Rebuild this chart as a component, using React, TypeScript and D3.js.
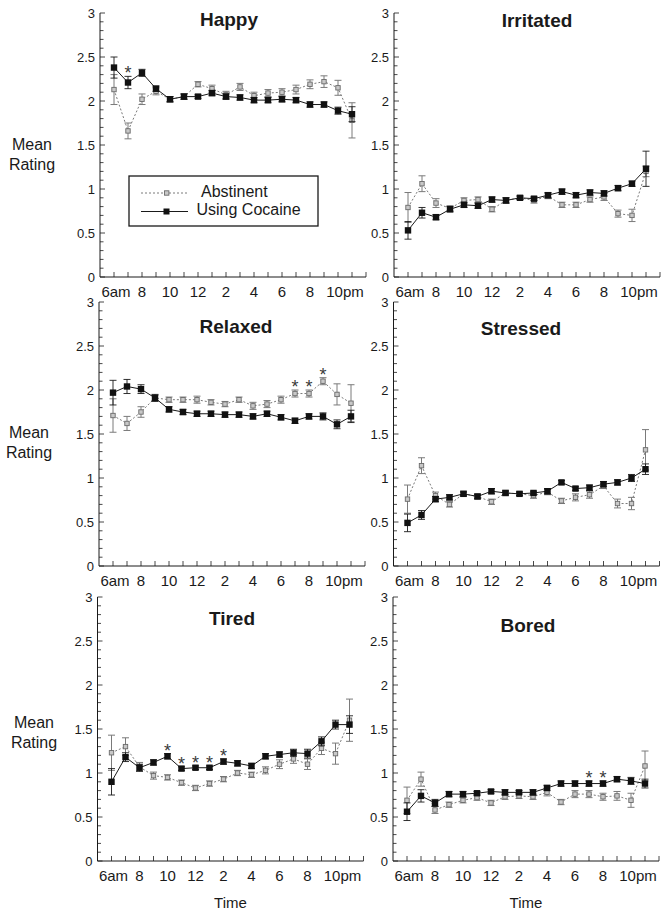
import React from "react";
import * as d3 from "d3";

const HOURS = [6, 7, 8, 9, 10, 11, 12, 13, 14, 15, 16, 17, 18, 19, 20, 21, 22, 23];
const TICK_HOURS = [6, 8, 10, 12, 14, 16, 18, 20, 22];
const TICK_LABELS = ["6am", "8", "10", "12", "2", "4", "6", "8", "10pm"];
const Y_TICKS = [0, 0.5, 1, 1.5, 2, 2.5, 3];
const Y_LABELS = ["0", "0.5", "1", "1.5", "2", "2.5", "3"];
const LEGEND_LABELS = ["Abstinent", "Using Cocaine"];

// Happy
const happyCocaine = [2.38, 2.21, 2.32, 2.14, 2.02, 2.05, 2.05, 2.09, 2.05, 2.04, 2.01, 2.01, 2.02, 2.01, 1.96, 1.96, 1.89, 1.85];
const happyCocaineErr = [0.12, 0.07, 0.04, 0.03, 0.03, 0.03, 0.02, 0.03, 0.03, 0.03, 0.03, 0.03, 0.03, 0.03, 0.03, 0.03, 0.04, 0.085];
const happyAbst = [2.13, 1.66, 2.02, 2.11, 2.02, 2.05, 2.19, 2.14, 2.07, 2.16, 2.06, 2.09, 2.1, 2.13, 2.19, 2.22, 2.15, 1.78];
const happyAbstErr = [0.17, 0.09, 0.06, 0.04, 0.03, 0.03, 0.03, 0.04, 0.04, 0.04, 0.04, 0.04, 0.04, 0.05, 0.05, 0.066, 0.085, 0.2];
const happySig = [7];

// Irritated
const irritatedCocaine = [0.53, 0.73, 0.68, 0.77, 0.82, 0.81, 0.88, 0.87, 0.9, 0.89, 0.93, 0.97, 0.93, 0.96, 0.95, 1.01, 1.06, 1.23];
const irritatedCocaineErr = [0.1, 0.06, 0.03, 0.03, 0.03, 0.03, 0.03, 0.03, 0.02, 0.02, 0.03, 0.03, 0.03, 0.03, 0.03, 0.03, 0.03, 0.2];
const irritatedAbst = [0.79, 1.06, 0.84, 0.78, 0.87, 0.88, 0.77, 0.87, 0.9, 0.87, 0.92, 0.82, 0.82, 0.88, 0.91, 0.72, 0.7, 1.2];
const irritatedAbstErr = [0.17, 0.09, 0.05, 0.03, 0.03, 0.03, 0.03, 0.03, 0.02, 0.03, 0.03, 0.03, 0.03, 0.03, 0.04, 0.04, 0.07, 0.06];
const irritatedSig: number[] = [];

// Relaxed
const relaxedCocaine = [1.97, 2.04, 2.01, 1.91, 1.78, 1.75, 1.73, 1.73, 1.72, 1.72, 1.7, 1.73, 1.69, 1.65, 1.7, 1.7, 1.61, 1.7];
const relaxedCocaineErr = [0.14, 0.08, 0.05, 0.04, 0.03, 0.03, 0.03, 0.03, 0.03, 0.03, 0.03, 0.03, 0.03, 0.03, 0.03, 0.04, 0.05, 0.07];
const relaxedAbst = [1.71, 1.62, 1.75, 1.91, 1.89, 1.89, 1.89, 1.86, 1.84, 1.89, 1.82, 1.84, 1.89, 1.96, 1.96, 2.1, 1.95, 1.85];
const relaxedAbstErr = [0.19, 0.08, 0.06, 0.03, 0.03, 0.03, 0.04, 0.03, 0.03, 0.03, 0.04, 0.04, 0.04, 0.04, 0.04, 0.04, 0.12, 0.21];
const relaxedSig = [19, 20, 21];

// Stressed
const stressedCocaine = [0.49, 0.58, 0.76, 0.78, 0.82, 0.79, 0.85, 0.83, 0.82, 0.83, 0.85, 0.95, 0.88, 0.89, 0.93, 0.95, 1.0, 1.1];
const stressedCocaineErr = [0.1, 0.05, 0.03, 0.03, 0.02, 0.02, 0.03, 0.02, 0.02, 0.02, 0.03, 0.02, 0.02, 0.03, 0.03, 0.03, 0.04, 0.06];
const stressedAbst = [0.76, 1.14, 0.8, 0.7, 0.82, 0.79, 0.73, 0.83, 0.82, 0.8, 0.84, 0.74, 0.78, 0.81, 0.91, 0.71, 0.71, 1.32];
const stressedAbstErr = [0.16, 0.09, 0.04, 0.03, 0.03, 0.03, 0.03, 0.03, 0.02, 0.03, 0.03, 0.03, 0.04, 0.04, 0.03, 0.05, 0.07, 0.23];
const stressedSig: number[] = [];

// Tired
const tiredCocaine = [0.9, 1.18, 1.06, 1.12, 1.19, 1.05, 1.06, 1.06, 1.13, 1.11, 1.08, 1.19, 1.21, 1.23, 1.22, 1.36, 1.55, 1.55];
const tiredCocaineErr = [0.15, 0.05, 0.04, 0.03, 0.03, 0.02, 0.02, 0.02, 0.03, 0.03, 0.03, 0.03, 0.03, 0.04, 0.05, 0.05, 0.05, 0.1];
const tiredAbst = [1.23, 1.3, 1.07, 0.97, 0.95, 0.89, 0.83, 0.88, 0.93, 1.0, 0.98, 1.03, 1.1, 1.16, 1.1, 1.28, 1.22, 1.6];
const tiredAbstErr = [0.2, 0.1, 0.05, 0.04, 0.03, 0.03, 0.03, 0.03, 0.03, 0.03, 0.03, 0.04, 0.05, 0.05, 0.06, 0.07, 0.12, 0.24];
const tiredSig = [10, 11, 12, 13, 14];

// Bored
const boredCocaine = [0.56, 0.74, 0.66, 0.76, 0.76, 0.77, 0.79, 0.78, 0.78, 0.78, 0.83, 0.88, 0.88, 0.88, 0.88, 0.93, 0.91, 0.88];
const boredCocaineErr = [0.1, 0.07, 0.04, 0.03, 0.03, 0.02, 0.02, 0.03, 0.02, 0.03, 0.03, 0.03, 0.03, 0.03, 0.03, 0.03, 0.04, 0.05];
const boredAbst = [0.69, 0.93, 0.58, 0.64, 0.69, 0.72, 0.66, 0.73, 0.74, 0.73, 0.78, 0.67, 0.76, 0.76, 0.73, 0.74, 0.69, 1.08];
const boredAbstErr = [0.15, 0.08, 0.04, 0.03, 0.03, 0.03, 0.03, 0.03, 0.03, 0.03, 0.04, 0.03, 0.04, 0.04, 0.04, 0.05, 0.08, 0.17];
const boredSig = [19, 20];

const FONT = "'Liberation Sans', Arial, Helvetica, sans-serif";
const INK = "#1a1a1a";
const GRAY = "#7a7a7a";

type PanelDef = {
  title: string;
  c: number[];
  ce: number[];
  a: number[];
  ae: number[];
  sig: number[];
  x5: number;
  top: number;
  titleX: number;
  titleY: number;
  legend?: boolean;
  yLabel?: { x: number; y: number };
  timeLabel?: boolean;
};

const PANELS: PanelDef[] = [
  { title: "Happy", c: happyCocaine, ce: happyCocaineErr, a: happyAbst, ae: happyAbstErr, sig: happySig, x5: 100, top: 13, titleX: 229, titleY: 26, legend: true, yLabel: { x: 32, y: 144 } },
  { title: "Irritated", c: irritatedCocaine, ce: irritatedCocaineErr, a: irritatedAbst, ae: irritatedAbstErr, sig: irritatedSig, x5: 394, top: 13, titleX: 537, titleY: 27 },
  { title: "Relaxed", c: relaxedCocaine, ce: relaxedCocaineErr, a: relaxedAbst, ae: relaxedAbstErr, sig: relaxedSig, x5: 99, top: 302, titleX: 236, titleY: 333, yLabel: { x: 29, y: 432 } },
  { title: "Stressed", c: stressedCocaine, ce: stressedCocaineErr, a: stressedAbst, ae: stressedAbstErr, sig: stressedSig, x5: 393.5, top: 302, titleX: 521, titleY: 335 },
  { title: "Tired", c: tiredCocaine, ce: tiredCocaineErr, a: tiredAbst, ae: tiredAbstErr, sig: tiredSig, x5: 97.5, top: 597, titleX: 232, titleY: 625, yLabel: { x: 34, y: 722 }, timeLabel: true },
  { title: "Bored", c: boredCocaine, ce: boredCocaineErr, a: boredAbst, ae: boredAbstErr, sig: boredSig, x5: 393, top: 597, titleX: 528, titleY: 632, timeLabel: true },
];

const PLOT_H = 264;
const HOUR_W = 14;

function Panel({ p }: { p: PanelDef }) {
  const x = d3.scaleLinear().domain([5, 24]).range([p.x5, p.x5 + 19 * HOUR_W]);
  const y = d3.scaleLinear().domain([0, 3]).range([p.top + PLOT_H, p.top]);
  const line = d3
    .line<number>()
    .x((_, i) => x(HOURS[i]))
    .y((d) => y(d));
  const minor = d3.range(0, 31).map((k) => k / 10);
  const xTicks = d3.range(6, 25);
  const cap = 3.5;

  return (
    <g>
      {/* axes */}
      <line x1={x(5)} x2={x(5)} y1={y(0)} y2={y(3)} stroke={INK} strokeWidth={1} />
      <line x1={x(5)} x2={x(24)} y1={y(0)} y2={y(0)} stroke={INK} strokeWidth={1} />
      {minor.map((v) => {
        const major = Math.round(v * 10) % 5 === 0;
        return (
          <line key={"yt" + v} x1={x(5)} x2={x(5) + (major ? 5 : 3.5)} y1={y(v)} y2={y(v)} stroke={INK} strokeWidth={0.8} />
        );
      })}
      {Y_TICKS.map((v, i) => (
        <text key={"yl" + v} x={x(5) - 5} y={y(v) + 4.5} textAnchor="end" fontSize={13} fill={INK} fontFamily={FONT}>
          {Y_LABELS[i]}
        </text>
      ))}
      {xTicks.map((h) => (
        <line key={"xt" + h} x1={x(h)} x2={x(h)} y1={y(0)} y2={y(0) - 5} stroke={INK} strokeWidth={0.8} />
      ))}
      {TICK_HOURS.map((h, i) => (
        <text
          key={"xl" + h}
          x={x(h) + (i === 0 ? 2 : i === TICK_HOURS.length - 1 ? 7 : 0)}
          y={y(0) + 20}
          textAnchor="middle"
          fontSize={15}
          fill={INK}
          fontFamily={FONT}
        >
          {TICK_LABELS[i]}
        </text>
      ))}

      {/* title */}
      <text x={p.titleX} y={p.titleY} textAnchor="middle" fontSize={19} fontWeight="bold" fill={INK} fontFamily={FONT}>
        {p.title}
      </text>

      {/* abstinent series */}
      <path d={line(p.a) || ""} fill="none" stroke={GRAY} strokeWidth={1} strokeDasharray="2,2" />
      {p.a.map((v, i) => {
        const cx = x(HOURS[i]);
        const e = p.ae[i];
        return (
          <g key={"ae" + i} stroke={GRAY} strokeWidth={1}>
            <line x1={cx} x2={cx} y1={y(v + e)} y2={y(v - e)} />
            <line x1={cx - cap} x2={cx + cap} y1={y(v + e)} y2={y(v + e)} />
            <line x1={cx - cap} x2={cx + cap} y1={y(v - e)} y2={y(v - e)} />
          </g>
        );
      })}
      {p.a.map((v, i) => (
        <rect key={"am" + i} x={x(HOURS[i]) - 2.2} y={y(v) - 2.2} width={4.4} height={4.4} fill="#c8c8c8" stroke="#6a6a6a" strokeWidth={0.9} />
      ))}

      {/* cocaine series */}
      <path d={line(p.c) || ""} fill="none" stroke={INK} strokeWidth={1} />
      {p.c.map((v, i) => {
        const cx = x(HOURS[i]);
        const e = p.ce[i];
        return (
          <g key={"ce" + i} stroke={INK} strokeWidth={0.9}>
            <line x1={cx} x2={cx} y1={y(v + e)} y2={y(v - e)} />
            <line x1={cx - cap} x2={cx + cap} y1={y(v + e)} y2={y(v + e)} />
            <line x1={cx - cap} x2={cx + cap} y1={y(v - e)} y2={y(v - e)} />
          </g>
        );
      })}
      {p.c.map((v, i) => (
        <rect key={"cm" + i} x={x(HOURS[i]) - 3.2} y={y(v) - 3.2} width={6.4} height={6.4} fill="#111" />
      ))}

      {/* significance */}
      {p.sig.map((h) => {
        const i = HOURS.indexOf(h);
        const topV = Math.max(p.c[i] + p.ce[i], p.a[i] + p.ae[i]);
        return (
          <text key={"s" + h} x={x(h)} y={y(topV) + 3} textAnchor="middle" fontSize={18} fill="#3a3a3a" fontFamily={FONT}>
            *
          </text>
        );
      })}

      {p.yLabel && (
        <g fontFamily={FONT} fontSize={16} fill={INK} textAnchor="middle">
          <text x={p.yLabel.x} y={p.yLabel.y + 6}>Mean</text>
          <text x={p.yLabel.x} y={p.yLabel.y + 26}>Rating</text>
        </g>
      )}
      {p.timeLabel && (
        <text x={(x(5) + x(24)) / 2} y={908} textAnchor="middle" fontSize={15} fill={INK} fontFamily={FONT}>
          Time
        </text>
      )}

      {p.legend && (
        <g fontFamily={FONT}>
          <rect x={129} y={176} width={189} height={50} fill="#fff" stroke={INK} strokeWidth={1.3} />
          <line x1={141} x2={188} y1={193} y2={193} stroke={GRAY} strokeWidth={1} strokeDasharray="2,2" />
          <rect x={164.5} y={190.8} width={4.4} height={4.4} fill="#c8c8c8" stroke="#6a6a6a" strokeWidth={0.9} />
          <text x={201} y={196.5} fontSize={16} fill={INK}>
            {LEGEND_LABELS[0]}
          </text>
          <line x1={141} x2={188} y1={211.5} y2={211.5} stroke={INK} strokeWidth={1} />
          <rect x={163.5} y={208.5} width={6} height={6} fill="#111" />
          <text x={196.5} y={214.5} fontSize={16} fill={INK}>
            {LEGEND_LABELS[1]}
          </text>
        </g>
      )}
    </g>
  );
}

export default function App() {
  return (
    <svg
      width={667}
      height={916}
      viewBox="0 0 667 916"
      style={{ position: "absolute", left: 0, top: 0, background: "#fff" }}
    >
      <rect x={0} y={0} width={667} height={916} fill="#fff" />
      {PANELS.map((p) => (
        <Panel key={p.title} p={p} />
      ))}
    </svg>
  );
}
